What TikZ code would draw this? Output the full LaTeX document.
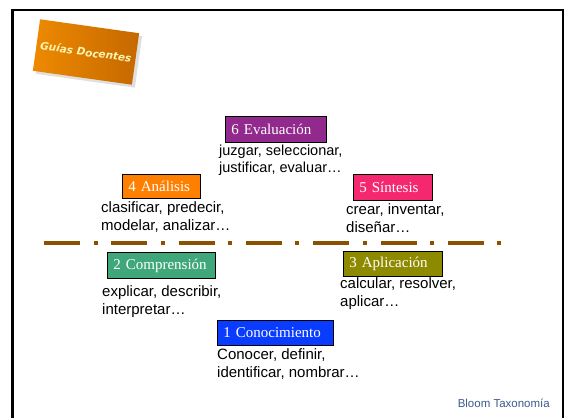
\documentclass[tikz,border=0pt]{standalone}
\usepackage{fontspec}
\setmainfont{Liberation Serif}
\newfontfamily\armfont{Liberation Sans}
\newfontfamily\comicfont{DejaVu Sans}
\usepackage{tikz}
\usetikzlibrary{shadows,positioning}

\definecolor{evalcol}{HTML}{922A8E}
\definecolor{analcol}{HTML}{FF7F00}
\definecolor{sintcol}{HTML}{F5286F}
\definecolor{aplicol}{HTML}{8E8A00}
\definecolor{compcol}{HTML}{3FA77A}
\definecolor{conocol}{HTML}{0A3CFF}
\definecolor{sepcol}{HTML}{8B5000}
\definecolor{guiaA}{HTML}{EE8A00}
\definecolor{guiaB}{HTML}{C56800}
\definecolor{guiatext}{HTML}{FFF3B0}
\definecolor{bloomcol}{HTML}{3A5A8C}

\begin{document}
\begin{tikzpicture}[x=1pt,y=1pt]
\tikzstyle{every node}+=[inner sep=0pt]
\tikzstyle{levelbox}=[draw=black, line width=0.8pt, text=white, anchor=north west,
  align=left, inner xsep=6pt, font=\fontsize{15}{18}\selectfont]
\tikzstyle{verbs}=[anchor=base west, align=left, font=\armfont\fontsize{15}{17.5}\selectfont]
\tikzstyle{guia}=[rotate=-8, minimum width=100pt, minimum height=52pt,
  left color=guiaA, right color=guiaB, text=guiatext,
  drop shadow={shadow xshift=3pt, shadow yshift=-3pt, opacity=0.25},
  font=\comicfont\bfseries\itshape\fontsize{10.5}{12}\selectfont]
\useasboundingbox (0,0) rectangle (567,-418);
% frame
\draw [line width=3pt] (12,-418) -- (12,-10);
\draw [line width=2pt] (11,-10) -- (563,-10) -- (563,-418);
% title
\node [guia] (guias) at (86,-52) {Guías Docentes};
% separator
\coordinate (sepL) at (44,-243);
\coordinate (sepR) at (503,-243);
\draw [sepcol, line width=4pt, dash pattern=on 36pt off 13.5pt on 4pt off 13.8pt] (sepL) -- (sepR);
% levels (verbs anchored at last baseline)
\node [levelbox, fill=evalcol, text width=89pt, minimum height=26pt] (eval) at (225,-116) {6 Evaluación};
\node [verbs, font=\armfont\fontsize{14.5}{17}\selectfont] (evalv) at (219,-172) {juzgar, seleccionar,\\justificar, evaluar…};
\node [levelbox, fill=analcol, text width=66pt, minimum height=24pt] (anal) at (122,-174) {4 Análisis};
\node [verbs] (analv) at (101,-230) {clasificar, predecir,\\modelar, analizar…};
\node [levelbox, fill=sintcol, text width=67pt, minimum height=26pt] (sint) at (353,-174) {5 Síntesis};
\node [verbs] (sintv) at (346,-232) {crear, inventar,\\diseñar…};
\node [levelbox, fill=aplicol, text width=87pt, minimum height=25pt] (apli) at (343,-251) {3 Aplicación};
\node [verbs] (apliv) at (340,-306) {calcular, resolver,\\aplicar…};
\node [levelbox, fill=compcol, text width=96pt, minimum height=26pt] (comp) at (107,-252) {2 Comprensión};
\node [verbs] (compv) at (102,-314) {explicar, describir,\\interpretar…};
\node [levelbox, fill=conocol, text width=104pt, minimum height=25pt] (cono) at (217,-320) {1 Conocimiento};
\node [verbs] (conov) at (217,-377) {Conocer, definir,\\identificar, nombrar…};
% footer
\node [anchor=base east, text=bloomcol, font=\armfont\fontsize{11.5}{13}\selectfont] (bloom) at (550,-407) {Bloom Taxonomía};
\end{tikzpicture}
\end{document}
